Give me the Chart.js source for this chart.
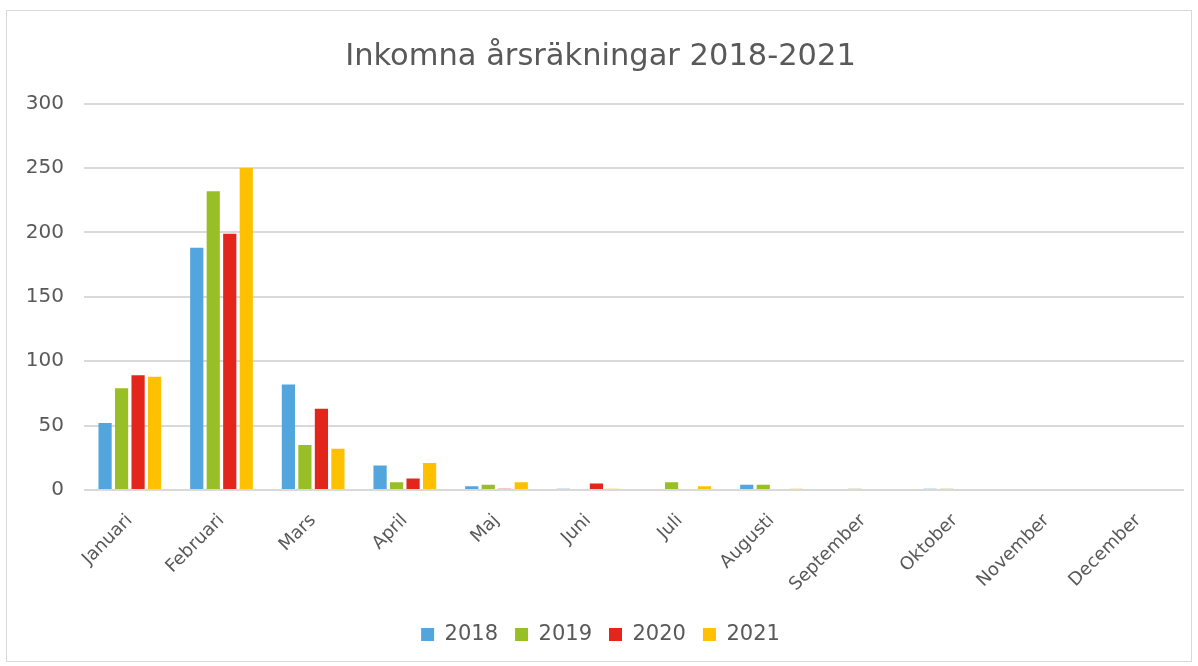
<!DOCTYPE html>
<html>
<head>
<meta charset="utf-8">
<script src="https://cdn.jsdelivr.net/npm/chart.js@4.4.0/dist/chart.umd.min.js"></script>
<style>
  html, body { margin: 0; padding: 0; background: #fff; }
  #frame {
    position: absolute; left: 6px; top: 10px;
    width: 1184px; height: 650px;
    border: 1px solid #d9d9d9; background: #fff;
  }
  canvas { display: block; }
</style>
</head>
<body>
<div id="frame"><canvas id="c" width="1184" height="650"></canvas></div>
<script>
// data
var months = ["Januari", "Februari", "Mars", "April", "Maj", "Juni", "Juli",
              "Augusti", "September", "Oktober", "November", "December"];
var years = ["2018", "2019", "2020", "2021"];
var v2018 = [52, 188, 82, 19, 3, 1, 0, 4, 0, 1, 0, 0];
var v2019 = [79, 232, 35, 6, 4, 0, 6, 4, 1, 1, 0, 0];
var v2020 = [89, 199, 63, 9, 1, 5, 0, 0, 0, 0, 0, 0];
var v2021 = [88, 250, 32, 21, 6, 1, 3, 1, 0, 0, 0, 0];
var yTicks = [0, 50, 100, 150, 200, 250, 300];

var colors = ["#52a5dd", "#99bf27", "#e2261c", "#ffc000"];
var series = [v2018, v2019, v2020, v2021];
var txt = "#595959";
var font = "'DejaVu Sans', Verdana, sans-serif";

var datasets = series.map(function(vals, i){
    return {
        label: years[i],
        data: vals,
        backgroundColor: colors[i],
        borderWidth: 0,
        categoryPercentage: 0.72,
        barPercentage: 0.8
    };
});

new Chart(document.getElementById("c"), {
    type: "bar",
    data: { labels: months, datasets: datasets },
    options: {
        responsive: false,
        animation: false,
        layout: { padding: { left: 10, right: 7, top: 0, bottom: 6 } },
        plugins: {
            title: {
                display: true,
                text: "Inkomna årsräkningar 2018-2021",
                color: txt,
                font: { family: font, size: 30.5, weight: "normal" },
                padding: { top: 28, bottom: 28 }
            },
            legend: {
                position: "bottom",
                labels: {
                    color: txt,
                    font: { family: font, size: 21 },
                    boxWidth: 13, boxHeight: 13,
                    padding: 17
                }
            },
            tooltip: { enabled: false }
        },
        scales: {
            x: {
                grid: { display: false },
                border: { display: false },
                afterFit: function(axis){ axis.height = 117; },
                ticks: {
                    color: txt,
                    font: { family: font, size: 18 },
                    maxRotation: 45, minRotation: 45,
                    autoSkip: false, padding: 12
                }
            },
            y: {
                min: 0, max: 300,
                afterBuildTicks: function(axis){
                    axis.ticks = yTicks.map(function(v){ return { value: v }; });
                },
                afterFit: function(axis){ axis.width = 67; },
                grid: { color: "#d9d9d9", lineWidth: 2, drawTicks: false },
                border: { display: false },
                ticks: {
                    color: txt,
                    font: { family: font, size: 20 },
                    padding: 20
                }
            }
        }
    }
});
</script>
</body>
</html>
